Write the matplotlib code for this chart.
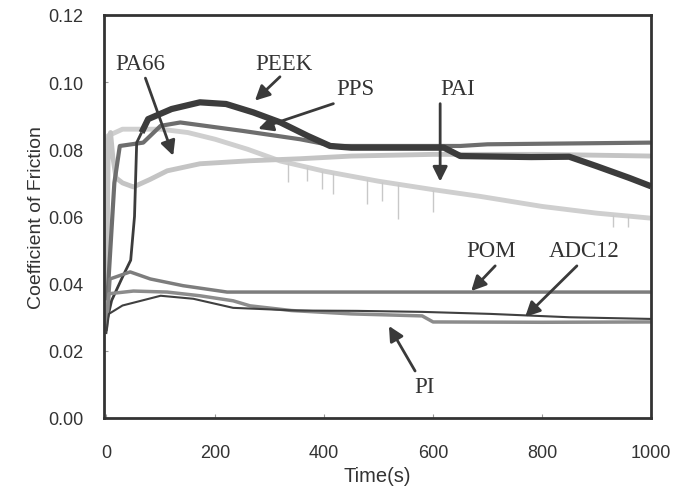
import numpy as np
import matplotlib
matplotlib.use("Agg")
import matplotlib.pyplot as plt

# ---- data (time in s, coefficient of friction) ----
peek_t = [0, 10, 30, 45, 52, 56, 65, 77, 120, 172, 220, 270, 320, 370, 411, 450, 620, 650, 780, 850, 900, 960, 1000]
peek_v = [0.028, 0.035, 0.042, 0.047, 0.060, 0.082, 0.085, 0.089, 0.092, 0.094, 0.0935, 0.091, 0.088, 0.084, 0.081, 0.0805, 0.0805, 0.078, 0.0777, 0.0778, 0.075, 0.0715, 0.069]

pps_t = [2, 15, 25, 68, 100, 136, 250, 356, 420, 650, 700, 1000]
pps_v = [0.035, 0.070, 0.081, 0.082, 0.087, 0.088, 0.0855, 0.083, 0.081, 0.081, 0.0815, 0.082]

pai_t = [0, 3, 30, 100, 150, 200, 260, 320, 400, 500, 600, 686, 800, 900, 1000]
pai_v = [0.030, 0.084, 0.086, 0.086, 0.085, 0.083, 0.080, 0.0765, 0.0735, 0.0705, 0.068, 0.066, 0.063, 0.061, 0.0595]
# downward spikes on the PAI trace
pai_spike_t = [334, 369, 396, 417, 479, 506, 536, 600, 930, 957]
pai_spike_v = [0.0703, 0.0706, 0.0682, 0.0667, 0.0638, 0.0647, 0.0593, 0.0614, 0.0570, 0.0570]

pa66_t = [0, 4, 8, 12, 18, 30, 50, 80, 112, 172, 264, 356, 450, 600, 800, 1000]
pa66_v = [0.030, 0.083, 0.085, 0.078, 0.0715, 0.070, 0.0688, 0.071, 0.0736, 0.0757, 0.0766, 0.0772, 0.078, 0.0785, 0.0785, 0.078]

pom_t = [0, 7, 44, 81, 141, 222, 356, 600, 800, 1000]
pom_v = [0.026, 0.0414, 0.0435, 0.0414, 0.0394, 0.0375, 0.0375, 0.0375, 0.0375, 0.0375]

adc12_t = [0, 5, 30, 100, 160, 233, 350, 460, 580, 705, 850, 1000]
adc12_v = [0.025, 0.031, 0.0335, 0.0364, 0.0355, 0.0328, 0.032, 0.0319, 0.0316, 0.031, 0.030, 0.0295]

pi_t = [0, 5, 50, 112, 172, 233, 264, 340, 450, 580, 600, 800, 1000]
pi_v = [0.028, 0.037, 0.0378, 0.0375, 0.0364, 0.0349, 0.0334, 0.032, 0.031, 0.0304, 0.0286, 0.0285, 0.0286]

# label text, label position, arrow tail, arrow head
labels = ["PA66", "PEEK", "PPS", "PAI", "POM", "ADC12", "PI"]
label_xy = [(62, 0.1055), (327, 0.1055), (457, 0.098), (645, 0.098), (707, 0.0498), (877, 0.0498), (584, 0.0095)]
tail_xy = [(72, 0.1012), (319, 0.1016), (417, 0.0936), (613, 0.0936), (714, 0.0453), (864, 0.0453), (567, 0.0140)]
head_xy = [(123, 0.0781), (273, 0.0945), (279, 0.0861), (613, 0.0704), (670, 0.0378), (769, 0.0301), (519, 0.0274)]

# ---------------------------------------------------------------
fig = plt.figure(figsize=(6.87, 4.89), dpi=100)
ax = fig.add_axes([104/687, 1 - 419/489, (651-104)/687, (419-16)/489])

ax.plot(pai_t, pai_v, color="#cfcfcf", lw=3.5, solid_capstyle="butt")
ax.vlines(pai_spike_t, [np.interp(t, pai_t, pai_v) for t in pai_spike_t], pai_spike_v, color="#c8c8c8", lw=1)
ax.plot(pa66_t, pa66_v, color="#c4c4c4", lw=3.5, solid_capstyle="butt")
ax.plot(pps_t, pps_v, color="#6e6e6e", lw=3, solid_capstyle="butt")
# the PEEK run-in is a thin trace, the steady part a heavy one
ax.plot(peek_t[:7], peek_v[:7], color="#3c3c3c", lw=2, solid_capstyle="butt")
ax.plot(peek_t[6:], peek_v[6:], color="#3c3c3c", lw=4.5, solid_capstyle="butt")
ax.plot(pom_t, pom_v, color="#7d7d7d", lw=2.5, solid_capstyle="butt")
ax.plot(pi_t, pi_v, color="#8c8c8c", lw=2.5, solid_capstyle="butt")
ax.plot(adc12_t, adc12_v, color="#404040", lw=1.5, solid_capstyle="butt")

for lab, lxy, txy, hxy in zip(labels, label_xy, tail_xy, head_xy):
    ax.text(lxy[0], lxy[1], lab, ha="center", va="center", fontsize=16.5,
            family="Liberation Serif", color="#333333")
    ax.annotate("", xy=hxy, xytext=txy,
                arrowprops=dict(arrowstyle="-|>", color="#3a3a3a", lw=2, mutation_scale=22,
                                shrinkA=0, shrinkB=0))

ax.set_xlim(-4, 1000)
ax.set_ylim(0, 0.12)
ax.set_xticks(np.arange(0, 1001, 200))
ax.set_yticks(np.arange(0, 0.121, 0.02))
ax.set_yticklabels(["%.2f" % v for v in np.arange(0, 0.121, 0.02)])
ax.tick_params(direction="in", length=3, width=0.8, color="#999999", labelsize=13,
               labelcolor="#333333")
ax.tick_params(axis="y", pad=15)
ax.tick_params(axis="x", pad=19)
for s in ax.spines.values():
    s.set_linewidth(2)
    s.set_color("#333333")

ax.set_xlabel("Time(s)", fontsize=14.5, color="#333333", family="Liberation Sans", labelpad=3)
ax.set_ylabel("Coefficient of Friction", fontsize=14, color="#333333", family="Liberation Sans", labelpad=2)
for lbl in ax.get_xticklabels() + ax.get_yticklabels():
    lbl.set_family("Liberation Sans")

fig.savefig("out.png", dpi=100)
